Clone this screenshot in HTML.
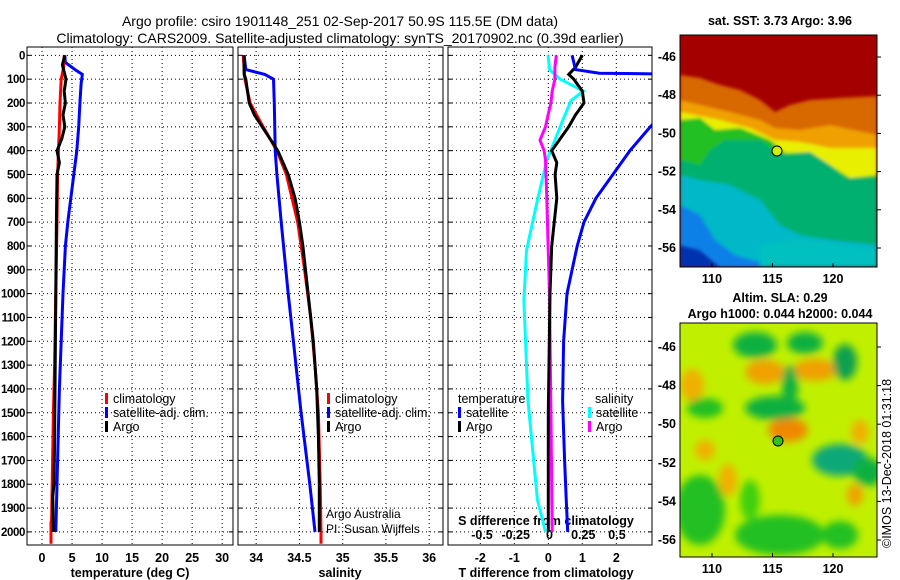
<!DOCTYPE html>
<html><head><meta charset="utf-8"><style>
body{margin:0;background:#fff}
svg{display:block;font-family:"Liberation Sans",sans-serif}
.tk{font-size:12.5px;font-weight:bold}
.dk{font-size:11.5px;font-weight:bold;letter-spacing:-0.4px}
.lb{font-size:12.5px;font-weight:bold}
</style></head><body>
<svg id="s" width="900" height="580" viewBox="0 0 900 580">
<text x="340" y="26" text-anchor="middle" font-size="14">Argo profile: csiro 1901148_251 02-Sep-2017 50.9S 115.5E (DM data)</text>
<text x="340" y="43" text-anchor="middle" font-size="14">Climatology: CARS2009. Satellite-adjusted climatology: synTS_20170902.nc (0.39d earlier)</text>
<g id="plots"></g>
<g id="maps">
 <filter id="bl"><feGaussianBlur stdDeviation="4"/></filter>
 <filter id="bl2"><feGaussianBlur stdDeviation="1.5"/></filter>
 <clipPath id="c1"><rect x="680" y="35" width="197" height="232"/></clipPath>
 <g clip-path="url(#c1)">
  <rect x="680" y="35" width="197" height="232" fill="#a50000"/>
  <g filter="url(#bl2)">
  <polygon points="680,75 700,78 720,85 740,90 760,100 775,112 790,105 810,100 840,98 877,96 877,267 680,267" fill="#d86800"/>
  <polygon points="680,100 700,105 730,112 760,120 775,128 800,130 830,125 877,135 877,267 680,267" fill="#f0a000"/>
  <polygon points="680,112 720,120 750,128 775,140 800,142 830,148 877,148 877,267 680,267" fill="#e8f000"/>
  <polygon points="680,120 700,118 715,130 740,128 770,140 785,153 810,152 830,165 850,178 877,175 877,267 680,267" fill="#20c020"/>
  <polygon points="680,160 700,165 710,150 725,140 760,140 785,155 810,152 830,165 845,178 877,178 877,267 680,267" fill="#00b070"/>
  <polygon points="680,175 700,180 730,185 760,200 780,225 800,235 830,240 877,245 877,267 680,267" fill="#00b8c8"/>
  <polygon points="680,205 700,215 715,240 735,255 760,262 770,267 680,267" fill="#1080e8"/>
  <polygon points="680,245 700,250 720,267 680,267" fill="#0030b0"/>
  <polygon points="760,245 800,238 840,245 877,250 877,267 760,267" fill="#00c0c0"/>
  </g>
 </g>
 <rect x="680" y="35" width="197" height="232" fill="none" stroke="#000"/>
 <circle cx="777" cy="151" r="5" fill="#d0f000" stroke="#000"/>
 <text x="780" y="25" text-anchor="middle" class="lb">sat. SST: 3.73 Argo: 3.96</text>
 <clipPath id="c2"><rect x="680" y="323" width="197" height="234"/></clipPath>
 <g clip-path="url(#c2)">
  <rect x="680" y="323" width="197" height="234" fill="#c0f000"/>
  <g filter="url(#bl)">
   <ellipse cx="765" cy="372" rx="20" ry="12" fill="#f0a000"/>
   <ellipse cx="815" cy="370" rx="22" ry="11" fill="#f0a000"/>
   <ellipse cx="692" cy="385" rx="12" ry="16" fill="#f0b000"/>
   <ellipse cx="788" cy="430" rx="20" ry="12" fill="#f08800"/>
   <ellipse cx="860" cy="432" rx="9" ry="12" fill="#f0b000"/>
   <ellipse cx="855" cy="495" rx="8" ry="11" fill="#f0a000"/>
   <ellipse cx="728" cy="480" rx="9" ry="16" fill="#f0b000"/>
   <ellipse cx="705" cy="450" rx="10" ry="10" fill="#f0b000"/>
   <ellipse cx="755" cy="345" rx="22" ry="13" fill="#10b040"/>
   <ellipse cx="805" cy="343" rx="18" ry="11" fill="#10b040"/>
   <ellipse cx="845" cy="362" rx="12" ry="18" fill="#10a050"/>
   <ellipse cx="775" cy="408" rx="30" ry="12" fill="#10b040"/>
   <ellipse cx="790" cy="385" rx="8" ry="20" fill="#10b040"/>
   <ellipse cx="840" cy="460" rx="28" ry="16" fill="#10a878"/>
   <ellipse cx="868" cy="472" rx="15" ry="14" fill="#10b040"/>
   <ellipse cx="700" cy="510" rx="25" ry="35" fill="#20c020"/>
   <ellipse cx="780" cy="535" rx="45" ry="20" fill="#20c020"/>
   <ellipse cx="840" cy="535" rx="18" ry="14" fill="#20c020"/>
   <ellipse cx="705" cy="408" rx="18" ry="10" fill="#20c020"/>
   <ellipse cx="750" cy="500" rx="10" ry="20" fill="#40d010"/>
  </g>
 </g>
 <rect x="680" y="323" width="197" height="234" fill="none" stroke="#000"/>
 <circle cx="778" cy="441" r="5" fill="#30c020" stroke="#000"/>
 <text x="780" y="302" text-anchor="middle" class="lb">Altim. SLA: 0.29</text>
 <text x="780" y="318" text-anchor="middle" class="lb">Argo h1000: 0.044 h2000: 0.044</text>
 <text transform="translate(891,548) rotate(-90)" font-size="12.5">©IMOS 13-Dec-2018 01:31:18</text>
</g>
</svg>
<script>
const depthTicks=[0,100,200,300,400,500,600,700,800,900,1000,1100,1200,1300,1400,1500,1600,1700,1800,1900,2000];
const tTicks=[0,5,10,15,20,25,30];
const sTicks=[34,34.5,35,35.5,36];
const dtTicks=[-2,-1,0,1,2];
const dsTicks=[-0.5,-0.25,0,0.25,0.5];
const dsTickLabels=["-0.5","-0.25","0","0.25","0.5"];
const lonTicks=[110,115,120];
const latTicks=[-46,-48,-50,-52,-54,-56];
const tempClimD=[0,50,100,200,300,500,700,1000,1300,1500,1800,1950,1960,2050];
const tempClim=[3.7,3.6,3.2,3.0,2.9,2.6,2.5,2.3,2.1,1.9,1.7,1.6,1.5,1.5];
const tempArgoD=[0,40,100,150,200,250,300,350,400,450,500,700,1000,1300,1600,1800,1850,2000];
const tempArgo=[3.8,3.4,4.0,3.7,3.9,3.5,3.8,3.3,2.5,2.9,2.5,2.4,2.3,2.2,2.1,2.0,1.8,1.9];
const tempSatD=[0,30,60,80,120,200,300,400,500,600,700,800,1000,1200,1400,1600,1800,2000];
const tempSat=[3.8,3.9,5.5,6.7,6.5,6.3,6.1,5.8,5.3,4.8,4.3,3.9,3.5,3.2,2.9,2.7,2.5,2.3];
const salArgoD=[0,80,100,200,250,300,400,500,600,700,800,900,1000,1200,1400,1600,1800,2000];
const salArgo=[33.86,33.86,33.88,33.92,33.98,34.07,34.25,34.37,34.45,34.5,34.54,34.57,34.6,34.66,34.7,34.72,34.73,34.73];
const salClimD=[0,100,200,300,400,500,700,900,1100,1300,1500,1800,2000,2050];
const salClim=[33.85,33.87,33.93,34.08,34.24,34.35,34.48,34.56,34.63,34.68,34.72,34.74,34.75,34.75];
const salSatD=[0,60,80,100,200,400,500,700,1000,1200,1500,1800,2000];
const salSat=[33.86,33.88,34.1,34.2,34.21,34.22,34.24,34.29,34.37,34.43,34.52,34.62,34.68];
const dtArgoD=[0,50,80,100,150,200,250,300,350,400,450,500,600,800,1000,1500,2000];
const dtArgo=[1.0,0.8,0.6,0.75,1.0,1.05,0.8,0.6,0.35,0.1,0.25,0.2,0.25,0.1,0.05,0.0,0.0];
const dtSatD=[0,60,75,80,300,400,500,600,700,800,1000,1200,1450,1700,1870,2000];
const dtSat=[0.7,0.8,1.5,4.5,3.0,2.4,1.9,1.4,1.05,0.85,0.55,0.45,0.42,0.48,0.53,0.57];
const dsSatD=[0,60,100,150,190,270,356,440,608,818,1030,1446,1865,2000];
const dsSat=[-0.01,0.0,0.08,0.25,0.16,0.10,0.04,-0.02,-0.09,-0.17,-0.19,-0.16,-0.09,-0.03];
const dsArgoD=[0,50,100,150,200,250,300,356,400,440,600,800,1000,1500,2000];
const dsArgo=[0.05,0.04,0.04,0.02,0.01,-0.01,-0.03,-0.07,-0.04,-0.03,-0.02,-0.01,0,0.01,0.02];

const NS="http://www.w3.org/2000/svg";
const g=document.getElementById('plots');
function mk(tag,at,par){const e=document.createElementNS(NS,tag);for(const k in at)e.setAttribute(k,at[k]);(par||g).appendChild(e);return e;}
const yTop=47,yBot=545,dTop=-35,dBot=2055;
const yD=d=>yTop+(d-dTop)/(dBot-dTop)*(yBot-yTop);
const panels=[{x0:27,x1:233,v0:-2.5,v1:31.8},{x0:238,x1:443,v0:33.79,v1:36.16},{x0:448,x1:652,v0:-2.95,v1:3.05}];
const sx=(p,v)=>p.x0+(v-p.v0)/(p.v1-p.v0)*(p.x1-p.x0);
const dsx=v=>549.5+v*135;
function grid(p,ticks,fx){
  for(const t of ticks){const x=fx(t);const l=mk('line',{x1:x,x2:x,y1:yTop,y2:yBot,stroke:'#000','stroke-dasharray':'1,3'});
  
  }
  for(const d of depthTicks){const l=mk('line',{x1:p.x0,x2:p.x1,y1:yD(d),y2:yD(d),stroke:'#000','stroke-dasharray':'1,3'});
  
  }
}
function frame(p){const r=mk('rect',{x:p.x0,y:yTop,width:p.x1-p.x0,height:yBot-yTop,fill:'none',stroke:'#000'});

}
function line(xs,ds,fx,col,name,w){const pts=xs.map((v,i)=>fx(v).toFixed(1)+','+yD(ds[i]).toFixed(1)).join(' ');
const e=mk('polyline',{points:pts,fill:'none',stroke:col,'stroke-width':w||3});

}
function txt(x,y,s,cls,anchor,name){const t=mk('text',{x:x,y:y,'class':cls,'text-anchor':anchor||'middle'});t.textContent=s;

return t;}
const P1=panels[0],P2=panels[1],P3=panels[2];
const clip=mk('clipPath',{id:'pc3'});mk('rect',{x:P3.x0,y:yTop,width:P3.x1-P3.x0,height:yBot-yTop},clip);
grid(P1,tTicks,v=>sx(P1,v));grid(P2,sTicks,v=>sx(P2,v));grid(P3,dtTicks,v=>sx(P3,v));
for(const d of depthTicks){txt(25,yD(d)+4,String(d),'dk','end','depth-tick-label');
 for(const p of panels){mk('line',{x1:p.x0,x2:p.x0+4,y1:yD(d),y2:yD(d),stroke:'#000'});mk('line',{x1:p.x1,x2:p.x1-4,y1:yD(d),y2:yD(d),stroke:'#000'});}}
tTicks.forEach(t=>txt(sx(P1,t),562,String(t),'tk','middle','temperature-tick-label'));
sTicks.forEach(t=>txt(sx(P2,t),562,String(t),'tk','middle','salinity-tick-label'));
dtTicks.forEach(t=>txt(sx(P3,t),562,String(t),'tk','middle','t-diff-tick-label'));
dsTicks.forEach((t,i)=>txt(dsx(t),539,dsTickLabels[i],'tk','middle','s-diff-tick-label'));
txt(130,577,'temperature (deg C)','lb','middle','temperature-axis-title');
txt(340,577,'salinity','lb','middle','salinity-axis-title');
txt(546,577,'T difference from climatology','lb','middle','t-diff-axis-title');
txt(546,525,'S difference from climatology','lb','middle','s-diff-axis-title');
line(tempSat,tempSatD,v=>sx(P1,v),'#0000ff','temp-satellite-line');
line(tempClim,tempClimD,v=>sx(P1,v),'#ff0000','temp-climatology-line');
line(tempArgo,tempArgoD,v=>sx(P1,v),'#000','temp-argo-line');
line(salClim,salClimD,v=>sx(P2,v),'#ff0000','sal-climatology-line');
line(salSat,salSatD,v=>sx(P2,v),'#0000ff','sal-satellite-line');
line(salArgo,salArgoD,v=>sx(P2,v),'#000','sal-argo-line');
const g3=mk('g',{'clip-path':'url(#pc3)'});
function line3(xs,ds,fx,col,name){const pts=xs.map((v,i)=>fx(v).toFixed(1)+','+yD(ds[i]).toFixed(1)).join(' ');
const e=mk('polyline',{points:pts,fill:'none',stroke:col,'stroke-width':3},g3);

}
line3(dsSat,dsSatD,dsx,'#00ffff','s-diff-satellite-line');
line3(dsArgo,dsArgoD,dsx,'#ff00ff','s-diff-argo-line');
line3(dtArgo,dtArgoD,v=>sx(P3,v),'#000','t-diff-argo-line');
line3(dtSat,dtSatD,v=>sx(P3,v),'#0000ff','t-diff-satellite-line');
panels.forEach(frame);
function leg(x,y,col,label){mk('rect',{x:x,y:y-10,width:3,height:11,fill:col});txt(x+8,y,label,'','start','legend-entry').setAttribute('font-size','12.5');}
leg(105,403,'#ff0000','climatology');leg(105,417,'#0000ff','satellite-adj. clim.');leg(105,431,'#000','Argo');
leg(327,403,'#ff0000','climatology');leg(327,417,'#0000ff','satellite-adj. clim.');leg(327,431,'#000','Argo');
txt(458,403,'temperature','','start','legend-title-temperature').setAttribute('font-size','12.5');
txt(595,403,'salinity','','start','legend-title-salinity').setAttribute('font-size','12.5');
leg(458,417,'#0000ff','satellite');leg(458,431,'#000','Argo');
leg(588,417,'#00ffff','satellite');leg(588,431,'#ff00ff','Argo');
txt(326,518,'Argo Australia','','start','credit-argo-australia').setAttribute('font-size','12');
txt(326,533,'PI: Susan Wijffels','','start','credit-pi').setAttribute('font-size','12');
const lonX=v=>712+(v-110)*12.1;
const latY1=v=>57+(-46-v)*19.1, latY2=v=>347+(-46-v)*19.3;
const mg=document.getElementById('maps');
for(const v of lonTicks){
 for(const yy of [283,573]){const t=mk('text',{x:lonX(v),y:yy,'class':'tk','text-anchor':'middle'},mg);t.textContent=v;
 
 }
 mk('line',{x1:lonX(v),x2:lonX(v),y1:267,y2:263,stroke:'#000'},mg);mk('line',{x1:lonX(v),x2:lonX(v),y1:557,y2:553,stroke:'#000'},mg);
}
for(const v of latTicks){
 for(const yy of [latY1(v),latY2(v)]){const t=mk('text',{x:676,y:yy+4,'class':'tk','text-anchor':'end'},mg);t.textContent=v;
 
 
 mk('line',{x1:877,x2:881,y1:yy,y2:yy,stroke:'#000'},mg);}
}
</script>
</body></html>
